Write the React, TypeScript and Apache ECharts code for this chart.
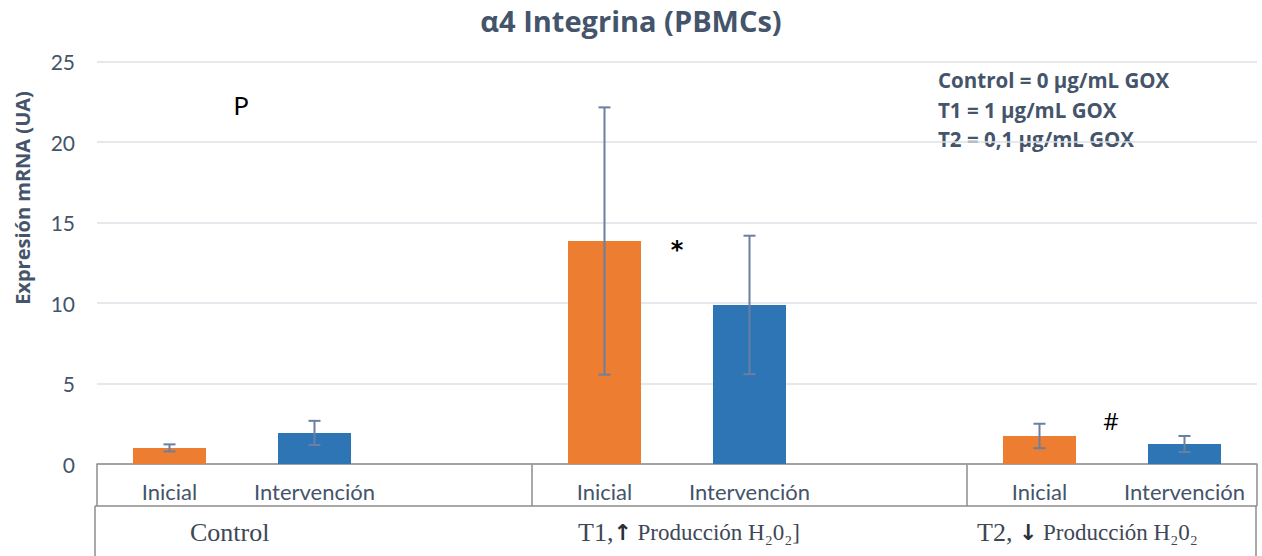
import React, { useEffect, useRef } from "react";
import * as echarts from "echarts";

// Multi-level category axis: Inicial / Intervención within each treatment group
const categories = ["Inicial", "Intervención", "", "Inicial", "Intervención", "", "Inicial", "Intervención"];
const groupLabels = ["Control", "T1", "T2"];
const inicialValues = [1.0, null, null, 13.85, null, null, 1.74, null];
const intervencionValues = [null, 1.93, null, null, 9.88, null, null, 1.24];
const errorValues = [0.22, 0.75, null, 8.3, 4.3, null, 0.76, 0.5];
const yTicks = { min: 0, max: 25, interval: 5 };
const legendLines = ["Control = 0 µg/mL GOX", "T1 = 1 µg/mL GOX", "T2 = 0,1 µg/mL GOX"];

const W = 1262;
const H = 556;
const GRID_LEFT = 97;
const GRID_RIGHT = 1257;
const GRID_TOP = 61.5;
const AXIS_Y = 464;
const ROW1_BOTTOM = 506;
const TEXT = "#44546A";
const RULE = "#8C8C8C";
const SANS = "Lato, 'Open Sans', sans-serif";
const BOLD_SANS = "'Open Sans', Lato, sans-serif";
const SERIF = "'Liberation Serif', 'DejaVu Serif', serif";
const GROUP_TEXT = "#3E4756";

export default function App() {
  const ref = useRef<HTMLDivElement>(null);

  useEffect(() => {
    if (!ref.current) return;
    const chart = echarts.init(ref.current, undefined, { renderer: "svg" });

    const means = categories.map((_, i) => inicialValues[i] ?? intervencionValues[i]);
    const errorData = categories
      .map((_, i) => {
        const m = means[i];
        const e = errorValues[i];
        if (m == null || e == null) return null;
        return [i, m - e, m + e];
      })
      .filter((d) => d !== null);

    const catW = (GRID_RIGHT - GRID_LEFT) / categories.length;
    const sepX = [GRID_LEFT, GRID_LEFT + 3 * catW, GRID_LEFT + 6 * catW, GRID_RIGHT];
    const lineStyle = { stroke: RULE, lineWidth: 1.5 };

    const groupRich = {
      a: { font: `26px ${SERIF}`, fill: GROUP_TEXT },
      b: { font: `bold 22px 'DejaVu Sans', sans-serif`, fill: "#2B2F36" },
      c: { font: `23px ${SERIF}`, fill: GROUP_TEXT },
    };

    const graphics: any[] = [
      // category table rules
      ...sepX.map((x) => ({
        type: "line",
        shape: { x1: x, y1: AXIS_Y, x2: x, y2: ROW1_BOTTOM },
        style: lineStyle,
        silent: true,
      })),
      {
        type: "line",
        shape: { x1: GRID_LEFT - 2, y1: ROW1_BOTTOM, x2: GRID_RIGHT, y2: ROW1_BOTTOM },
        style: lineStyle,
      },
      {
        type: "line",
        shape: { x1: GRID_LEFT - 2, y1: ROW1_BOTTOM, x2: GRID_LEFT - 2, y2: H },
        style: lineStyle,
      },
      {
        type: "line",
        shape: { x1: GRID_RIGHT - 1, y1: ROW1_BOTTOM, x2: GRID_RIGHT - 1, y2: H },
        style: lineStyle,
      },
      // group labels (second row)
      {
        type: "text",
        x: 190,
        y: 532,
        style: { text: `{a|${groupLabels[0]}}`, verticalAlign: "middle", rich: groupRich },
      },
      {
        type: "text",
        x: 578,
        y: 532,
        style: {
          text: `{a|${groupLabels[1]},}{b|↑}{c| Producción H₂0₂]}`,
          verticalAlign: "middle",
          rich: groupRich,
        },
      },
      {
        type: "text",
        x: 977,
        y: 532,
        style: {
          text: `{a|${groupLabels[2]}, }{b|↓}{c| Producción H₂0₂}`,
          verticalAlign: "middle",
          rich: groupRich,
        },
      },
      // y axis title
      {
        type: "text",
        x: 22,
        y: 198,
        rotation: Math.PI / 2,
        style: {
          text: "Expresión mRNA (UA)",
          font: `bold 20px ${BOLD_SANS}`,
          fill: TEXT,
          align: "center",
          verticalAlign: "middle",
        },
      },
      // dose legend
      ...legendLines.map((t, i) => ({
        type: "text",
        x: 938,
        y: 80 + i * 29.5,
        style: {
          text: t,
          font: `bold 20.5px ${BOLD_SANS}`,
          fill: TEXT,
          verticalAlign: "middle",
        },
      })),
      // significance marks
      {
        type: "text",
        x: 241,
        y: 105,
        style: { text: "P", font: `25px ${SANS}`, fill: "#000", align: "center", verticalAlign: "middle" },
      },
      {
        type: "text",
        x: 677,
        y: 250,
        style: {
          text: "*",
          font: `bold 24px 'DejaVu Sans', sans-serif`,
          fill: "#000",
          align: "center",
          verticalAlign: "middle",
        },
      },
      {
        type: "text",
        x: 1111,
        y: 420,
        style: {
          text: "#",
          font: `24px 'Open Sans', sans-serif`,
          fill: "#000",
          align: "center",
          verticalAlign: "middle",
        },
      },
    ];

    chart.setOption({
      animation: false,
      backgroundColor: "#ffffff",
      title: {
        text: "α4 Integrina (PBMCs)",
        left: "center",
        top: 1,
        textStyle: { fontFamily: BOLD_SANS, fontSize: 29, fontWeight: "bold", color: TEXT },
      },
      grid: {
        left: GRID_LEFT,
        right: W - GRID_RIGHT,
        top: GRID_TOP,
        bottom: H - AXIS_Y,
        containLabel: false,
      },
      xAxis: {
        type: "category",
        data: categories,
        axisLine: { show: true, lineStyle: { color: RULE, width: 1.5 } },
        axisTick: { show: false },
        axisLabel: { interval: 0, fontFamily: SANS, fontSize: 22, color: TEXT, margin: 16 },
      },
      yAxis: {
        type: "value",
        min: yTicks.min,
        max: yTicks.max,
        interval: yTicks.interval,
        axisLine: { show: false },
        axisTick: { show: false },
        axisLabel: { fontFamily: SANS, fontSize: 21, color: TEXT, margin: 22 },
        splitLine: { lineStyle: { color: "#DDE1E6", width: 1.5 } },
      },
      series: [
        {
          name: "Inicial",
          type: "bar",
          data: inicialValues.map((v) => (v == null ? "-" : v)),
          barWidth: 73,
          barGap: "-100%",
          itemStyle: { color: "#ED7D31" },
        },
        {
          name: "Intervención",
          type: "bar",
          data: intervencionValues.map((v) => (v == null ? "-" : v)),
          barWidth: 73,
          barGap: "-100%",
          itemStyle: { color: "#2E75B6" },
        },
        {
          name: "error",
          type: "custom",
          data: errorData,
          z: 10,
          renderItem: (params: any, api: any) => {
            const idx = api.value(0);
            const lo = api.coord([idx, api.value(1)]);
            const hi = api.coord([idx, api.value(2)]);
            const x = lo[0];
            const cap = 6;
            const style = { stroke: "#6B7FA0", lineWidth: 2 };
            return {
              type: "group",
              children: [
                { type: "line", shape: { x1: x, y1: lo[1], x2: x, y2: hi[1] }, style },
                { type: "line", shape: { x1: x - cap, y1: hi[1], x2: x + cap, y2: hi[1] }, style },
                { type: "line", shape: { x1: x - cap, y1: lo[1], x2: x + cap, y2: lo[1] }, style },
              ],
            };
          },
        },
      ],
      graphic: graphics,
    });

    return () => chart.dispose();
  }, []);

  return (
    <div
      ref={ref}
      style={{ position: "absolute", left: 0, top: 0, width: W, height: H, background: "#fff" }}
    />
  );
}
